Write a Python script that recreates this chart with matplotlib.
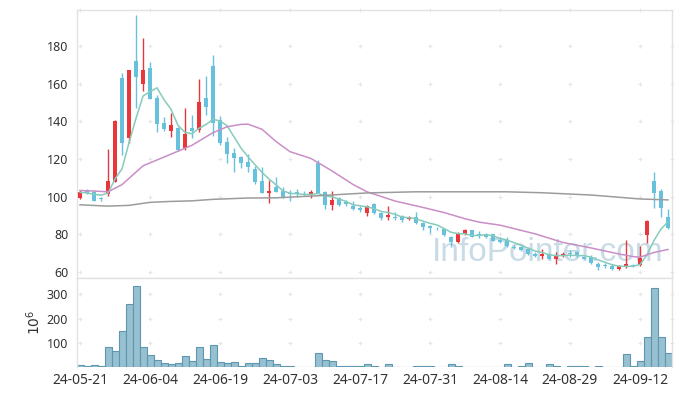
import matplotlib
matplotlib.use("Agg")
import matplotlib.pyplot as plt
import numpy as np

plt.rcParams['font.family'] = ['Noto Sans', 'DejaVu Sans']

# daily candles (price), one entry per trading day
opens = [99.1,103.3,102.5,99.2,101.2,108.0,163.2,131.0,172.0,159.8,
         168.5,152.6,139.3,135.0,136.3,126.0,136.4,135.4,152.6,169.4,
         140.8,129.0,123.3,121.1,118.4,114.5,108.3,102.1,105.3,103.2,
         102.1,102.6,101.6,101.2,118.0,102.6,95.6,99.1,97.3,95.0,
         94.1,91.2,95.9,91.5,89.0,89.0,89.7,88.0,89.0,86.1,
         84.4,83.5,82.7,78.4,76.0,80.2,82.3,80.2,80.0,80.0,
         77.2,76.8,73.3,73.2,72.0,69.7,68.3,69.7,66.8,68.3,
         70.0,70.6,67.9,67.9,64.2,63.4,63.3,61.6,62.8,63.7,
         63.7,79.6,108.5,103.2,89.0]
highs = [103.5,103.9,103.0,100.0,125.1,140.5,165.5,167.5,196.5,184.1,
         171.3,154.0,142.1,144.3,137.0,146.9,143.3,162.3,164.0,175.2,
         142.9,131.5,125.7,121.6,122.6,116.3,115.6,108.8,110.2,105.0,
         103.5,103.9,103.0,103.5,119.5,103.0,103.0,100.0,98.2,97.6,
         95.0,95.5,96.4,92.0,95.0,92.0,90.2,89.8,92.0,86.5,
         85.0,84.0,83.2,79.0,81.0,82.8,82.5,82.0,80.5,80.3,
         78.5,78.5,74.5,73.8,73.5,70.8,72.0,70.0,70.6,70.6,
         71.6,71.4,68.2,68.8,65.3,64.6,64.1,63.5,77.0,64.5,
         73.8,87.5,113.3,103.9,93.3]
lows = [99.0,101.2,97.5,97.6,100.5,108.0,122.1,128.5,146.9,156.1,
        151.9,134.2,135.1,131.9,124.0,125.0,131.0,134.5,143.5,132.0,
        127.5,118.0,113.3,115.0,113.3,107.0,101.7,96.8,102.3,99.1,
        97.9,100.0,100.3,99.4,101.8,93.4,93.2,95.0,95.0,92.8,
        92.0,89.5,90.9,87.7,87.7,87.4,86.7,87.5,85.5,82.5,
        80.5,82.5,79.3,73.4,75.5,79.8,78.5,78.0,78.0,76.3,
        75.2,73.5,72.3,71.2,69.2,67.8,67.0,66.8,64.2,67.8,
        68.2,68.0,66.8,64.5,61.1,62.0,61.3,61.3,62.0,62.8,
        63.0,75.2,93.8,89.0,82.8]
closes = [102.6,102.1,97.9,98.7,108.3,140.2,128.7,167.3,163.7,167.3,
          151.9,138.8,136.0,138.0,124.8,133.4,135.0,150.4,147.8,139.0,
          128.7,122.6,120.7,118.0,115.9,108.0,102.1,103.0,102.6,100.0,
          101.2,101.2,101.2,102.6,102.1,95.6,98.2,95.6,95.9,93.4,
          92.9,95.0,91.2,88.5,90.2,88.5,87.6,89.3,85.8,83.7,
          83.2,83.2,79.6,76.0,80.2,82.3,78.7,79.8,78.7,76.5,
          76.0,73.8,73.0,71.5,69.4,68.3,69.7,67.1,68.8,69.7,
          69.6,68.3,67.1,64.9,62.8,63.1,61.6,63.3,64.2,63.4,
          67.4,87.1,102.1,93.8,83.2]

# volume in millions
volumes = [10,5,10,6,82,67,149,262,333,82,
           51,31,17,13,17,47,27,82,33,91,
           21,17,21,8,17,17,37,29,13,8,
           8,4,4,4,58,31,27,8,8,8,
           8,13,8,4,13,4,4,4,8,8,
           8,4,4,13,8,1,4,4,1,4,
           4,13,4,8,17,4,4,13,8,4,
           8,8,8,4,8,4,4,1,54,8,
           27,126,327,126,58]

# moving average lines
ma5 = [102.3,102.0,101.3,100.8,101.9,109.4,114.8,128.6,141.6,153.4,
       155.8,157.8,151.5,146.4,137.9,134.2,133.4,136.3,138.3,141.1,
       140.2,137.7,131.8,125.8,121.2,117.0,112.9,109.4,106.3,103.1,
       101.8,101.6,101.2,101.2,101.7,100.5,99.9,98.8,97.5,95.7,
       95.2,94.6,93.7,92.2,91.6,90.7,89.2,88.8,88.3,87.0,
       85.9,85.0,83.1,81.1,80.4,80.3,79.4,79.4,79.9,79.2,
       77.9,77.0,75.6,74.2,72.7,71.2,70.4,69.2,68.7,68.7,
       69.0,68.7,68.7,67.9,66.5,65.2,63.9,63.1,63.0,63.1,
       64.0,69.1,76.8,82.8,86.7]
ma20_idx = [0,2,4,6,9,11,13,16,19,21,23,24,26,28,30,33,36,39,41,45,49,52,55,57,60,65,69,73,77,79,80,82,84]
ma20 = [103.3,103.0,102.6,106.4,116.4,119.5,122.6,127.3,134.0,137.1,138.4,138.5,135.8,129.3,123.9,120.3,113.7,106.5,102.6,97.7,94.3,91.6,88.3,86.5,84.9,80.3,75.7,72.8,69.6,68.2,67.9,70.4,72.0]
ma120_idx = [0,4,7,10,13,16,19,24,28,34,41,48,57,61,66,73,80,84]
ma120 = [95.7,95.0,95.4,97.0,97.5,97.8,98.6,99.3,99.4,100.5,102.0,102.6,102.6,102.6,102.1,100.9,98.8,98.3]

tick_pos = [0,10,20,30,40,50,60,70,80]
tick_labels = ['24-05-21','24-06-04','24-06-19','24-07-03','24-07-17',
               '24-07-31','24-08-14','24-08-29','24-09-12']
price_ticks = [60,80,100,120,140,160,180]
vol_ticks = [100,200,300]

up_col = '#e8363b'
down_col = '#68c1dc'
frame_col = '#e2e2e2'
cross_col = '#e6e6e6'
text_col = '#333333'

fig = plt.figure(figsize=(6.8, 3.96), dpi=100)
ax = fig.add_axes([0.1125, 0.2992, 0.875, 0.6755])
axv = fig.add_axes([0.1125, 0.072, 0.875, 0.2272], sharex=ax)

x = np.arange(len(closes))
o = np.array(opens)
c = np.array(closes)
cols = [up_col if cc >= oo else down_col for oo, cc in zip(o, c)]
body_lo = np.minimum(o, c)
body_h = np.maximum(np.abs(c - o), 0.45)

ax.text(0.986, 0.035, 'InfoPointer.com', transform=ax.transAxes, ha='right', va='bottom',
        fontsize=24, color='#c8dbe6', family=['Liberation Sans', 'DejaVu Sans'], zorder=0)

ax.vlines(x, lows, highs, colors=cols, lw=1.0, zorder=2)
ax.bar(x, body_h, bottom=body_lo, width=0.6, color=cols, zorder=3)

ax.plot(x, ma5, color='#86cbbb', lw=1.1, zorder=4)
ax.plot(ma20_idx, ma20, color='#c98fc6', lw=1.1, zorder=4)
ax.plot(ma120_idx, ma120, color='#9c9c9c', lw=1.1, zorder=4)

axv.bar(x, volumes, width=1.0, color='#97c0d1', edgecolor='#5f96b0', lw=0.8, zorder=2)

ax.set_xlim(-0.5, 84.5)
ax.set_ylim(57.1, 199.1)
axv.set_ylim(0, 369)

# little "+" marks at the grid crossings
for a, yt in [(ax, price_ticks), (axv, vol_ticks)]:
    gx, gy = np.meshgrid(tick_pos + [84.5], yt)
    a.scatter(gx.ravel(), gy.ravel(), marker='+', s=12, color=cross_col, lw=0.8, zorder=1, clip_on=False)
ax.scatter(tick_pos, [199.1] * len(tick_pos), marker='+', s=12, color=cross_col, lw=0.8, zorder=1, clip_on=False)

for a in (ax, axv):
    for s in a.spines.values():
        s.set_color(frame_col)
        s.set_linewidth(1.0)
    a.tick_params(length=0, colors=text_col)
axv.spines['bottom'].set_visible(False)

ax.set_yticks(price_ticks)
ax.tick_params(axis='y', labelsize=9, pad=6)
ax.tick_params(axis='x', labelbottom=False)
axv.set_yticks(vol_ticks)
axv.tick_params(axis='y', labelsize=9, pad=6)
axv.set_xticks(tick_pos)
axv.set_xticklabels(tick_labels)
axv.tick_params(axis='x', labelsize=10, pad=4)
axv.set_ylabel('$10^6$', fontsize=10, color=text_col, labelpad=2)

fig.savefig('out.png', dpi=100, facecolor='white')
